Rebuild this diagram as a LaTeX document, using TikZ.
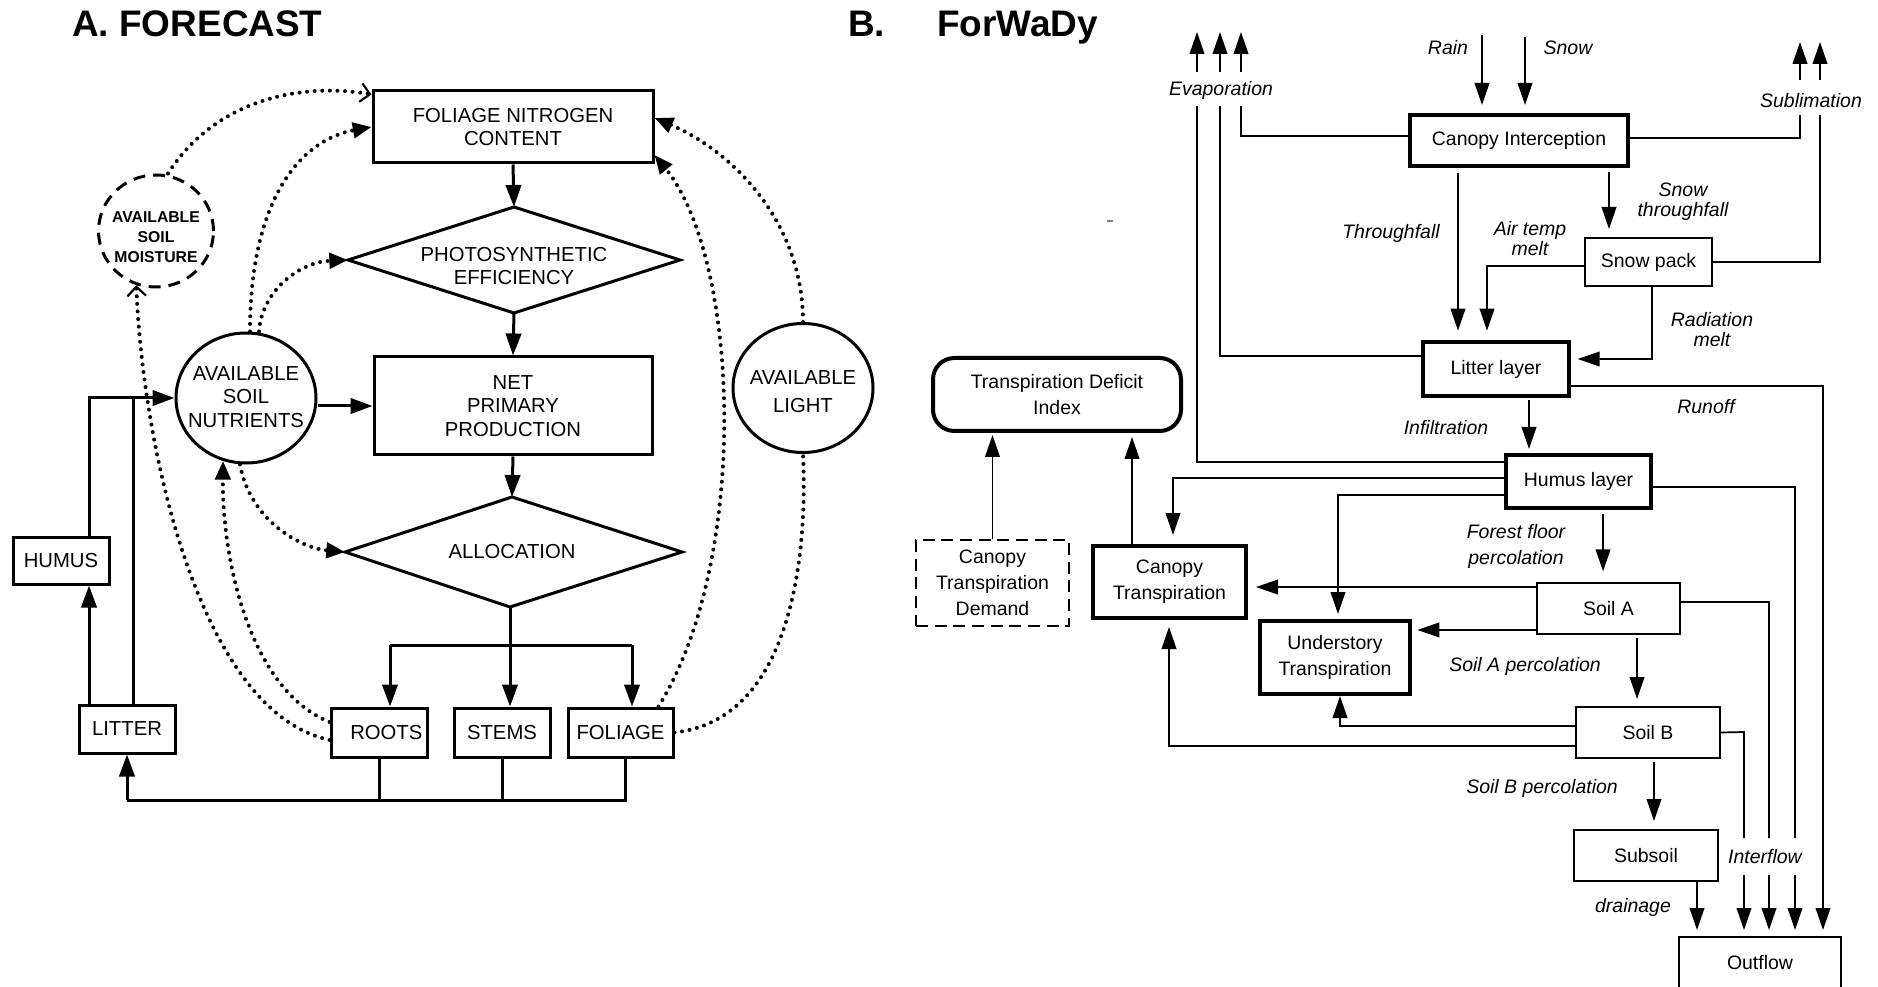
\documentclass[tikz,border=0pt]{standalone}
\usepackage{fontspec}
\setmainfont{Liberation Sans}
\usetikzlibrary{arrows.meta,shapes.geometric}
\newcommand\myfA{\fontsize{15.2pt}{17.5pt}\selectfont}
\newcommand\myfM{\bfseries\fontsize{11.8pt}{15pt}\selectfont}
\newcommand\myfB{\fontsize{14.6pt}{19.5pt}\selectfont}
\newcommand\myfT{\bfseries\fontsize{27.7pt}{30pt}\selectfont}
\begin{document}
\begin{tikzpicture}[x=0.75pt,y=-0.75pt,
  abox/.style={draw,line width=2.25pt,inner sep=0pt,align=center,font=\myfA},
  aell/.style={draw,ellipse,line width=2.25pt,inner sep=0pt},
  atext/.style={inner sep=0pt,align=center,font=\myfA},
  aline/.style={line width=2.25pt},
  aarr/.style={aline,-{Triangle[length=16.5pt,width=11.5pt]}},
  adot/.style={line width=3pt,line cap=round,dash pattern=on 0pt off 5.7pt},
  adarr/.style={adot,-{Triangle[length=14pt,width=11.5pt]}},
  adopen/.style={adot,-{Straight Barb[length=7pt,width=14pt,line width=1.6pt]}},
  bthick/.style={draw,line width=3pt,inner sep=0pt,align=center,font=\myfB},
  bthin/.style={draw,line width=1.5pt,inner sep=0pt,align=center,font=\myfB},
  bline/.style={line width=1.3pt},
  barr/.style={bline,-{Triangle[length=16.5pt,width=11pt]}},
  blab/.style={inner sep=0pt,align=center,font=\myfB\itshape},
  blabt/.style={inner sep=0pt,align=center,font=\fontsize{14.6pt}{15pt}\selectfont\itshape},
  ttl/.style={font=\myfT,anchor=base west,inner sep=0pt},
]
\useasboundingbox (0,0) rectangle (1878,987);

% ---------------- titles
\node[ttl] (tA) at (72,37) {A. FORECAST};
\node[ttl] (tB) at (848,37) {B.};
\node[ttl] (tBn) at (937,37) {ForWaDy};

% ---------------- A. FORECAST
\node[abox,minimum width=210pt,minimum height=54pt] (fnc) at (513,127) {FOLIAGE NITROGEN\\CONTENT};
\coordinate (peN) at (514,207);
\coordinate (peS) at (514,313);
\coordinate (peW) at (348,260);
\coordinate (peE) at (680,260);
\draw[aline] (peN) -- (peE) -- (peS) -- (peW) -- cycle;
\node[atext] (pe) at (514,266) {PHOTOSYNTHETIC\\EFFICIENCY};
\node[abox,minimum width=208.5pt,minimum height=73.5pt] (npp) at (513,406) {NET\\PRIMARY\\PRODUCTION};
\coordinate (alN) at (512,497);
\coordinate (alS) at (510,607);
\coordinate (alW) at (345,552);
\coordinate (alE) at (682,552);
\draw[aline] (alN) -- (alE) -- (alS) -- (alW) -- cycle;
\node[atext] (al) at (512,552) {ALLOCATION};

\node[abox,minimum width=72pt,minimum height=36.75pt] (roots) at (379,732.5) {\hspace*{11pt}ROOTS};
\node[abox,minimum width=72pt,minimum height=36.75pt] (stems) at (502,732.5) {STEMS};
\node[abox,minimum width=78.75pt,minimum height=36.75pt] (foliage) at (620.5,732.5) {FOLIAGE};
\node[abox,minimum width=72pt,minimum height=36pt] (litter) at (127,729) {LITTER};
\node[abox,minimum width=72pt,minimum height=35.25pt] (humus) at (61,560.5) {HUMUS};

\node[aell,minimum width=105pt,minimum height=97.5pt] (nut) at (246,398) {};
\node[atext] (nutT) at (246,397) {AVAILABLE\\SOIL\\NUTRIENTS};
\node[aell,minimum width=105pt,minimum height=96.75pt] (light) at (803,388) {};
\node[atext,font=\fontsize{15.2pt}{21pt}\selectfont] (lightT) at (803,392) {AVAILABLE\\LIGHT};
\node[aell,dash pattern=on 9pt off 6pt,minimum width=86.25pt,minimum height=84pt] (moist) at (156,231) {};
\node[atext,font=\myfM] (moistT) at (156,237) {AVAILABLE\\SOIL\\MOISTURE};

% solid connectors
\draw[aarr] (fnc.south) -- (peN);
\draw[aarr] (peS) -- (npp.north);
\draw[aarr] (npp.south) -- (alN);
\draw[aarr] (npp.west -| nut.east) -- (npp.west);
\coordinate (jc) at (510,645);
\coordinate (jL) at (390,645);
\coordinate (jR) at (632,645);
\draw[aline] (alS) -- (jc);
\draw[aline] (jL) -- (jR);
\draw[aarr] (jL) -- (jL |- roots.north);
\draw[aarr] (jc) -- (jc |- stems.north);
\draw[aarr] (jR) -- (jR |- foliage.north);
\coordinate (bL) at (127,800);
\draw[aline] (roots.south) -- (roots.south |- bL);
\draw[aline] (stems.south) -- (stems.south |- bL);
\draw[aline] ([xshift=4pt]foliage.south) -- ([xshift=4pt]foliage.south |- bL) -- (bL);
\draw[aarr] (bL) -- (litter.south);
\draw[aarr] ([xshift=-28.5pt]litter.north) -- ([xshift=-28.5pt]litter.north |- humus.south);
\coordinate (hj) at (89,398);
\draw[aarr] ([xshift=21pt]humus.north) -- (hj) -- (nut.west);
\draw[aline] ([xshift=4.5pt]litter.north) -- ([xshift=4.5pt]litter.north |- hj);

% dotted connectors
\draw[adopen] ([xshift=9pt]moist.north) .. controls (215,100) and (300,82) .. ([yshift=-3.75pt]fnc.north west);
\draw[adarr] ([xshift=3pt]nut.north) .. controls (250,200) and (300,140) .. (fnc.west);
\draw[adarr] ([xshift=9.75pt]nut.north) .. controls (262,290) and (300,262) .. (peW);
\draw[adarr] ([xshift=-4.5pt]nut.south) .. controls (250,520) and (300,548) .. (alW);
\draw[adarr] ([yshift=7.9pt]roots.west) .. controls (250,690) and (222,560) .. (nut.250);
\draw[adopen] ([yshift=-5.6pt]roots.west) .. controls (200,712) and (143,450) .. (moist.250);
\draw[adarr] ([xshift=-12pt]foliage.north east) .. controls (750,560) and (740,260) .. ([yshift=-21pt]fnc.east);
\draw[adot] (foliage.east) .. controls (790,720) and (808,560) .. (light.south);
\draw[adarr] (light.north) .. controls (803,220) and (730,150) .. ([yshift=6.75pt]fnc.east);

% ---------------- B. ForWaDy
\node[bthick,minimum width=163.5pt,minimum height=38.25pt] (ci) at (1519,140.5) {Canopy Interception};
\node[bthin,minimum width=95.25pt,minimum height=36pt] (sp) at (1648.5,262) {Snow pack};
\node[bthick,minimum width=109.5pt,minimum height=40.5pt] (ll) at (1496,369) {Litter layer};
\node[bthick,minimum width=108.75pt,minimum height=39.75pt] (hl) at (1578.5,481.5) {Humus layer};
\node[bthin,minimum width=107.25pt,minimum height=38.25pt] (sa) at (1608.5,608.5) {Soil A};
\node[bthin,minimum width=108pt,minimum height=38.25pt] (sb) at (1648,732.5) {Soil B};
\node[bthin,minimum width=108pt,minimum height=38.25pt] (ss) at (1646,855.5) {Subsoil};
\node[bthick,rounded corners=16pt,minimum width=186pt,minimum height=54.75pt] (tdi) at (1057,394.5) {Transpiration Deficit\\Index};
\node[bthin,dash pattern=on 9pt off 5pt,minimum width=114.75pt,minimum height=64.5pt] (ctd) at (992.5,583) {Canopy\\Transpiration\\Demand};
\node[bthick,minimum width=114.75pt,minimum height=54pt] (ct) at (1169.5,582) {Canopy\\Transpiration};
\node[bthick,minimum width=112.5pt,minimum height=54.75pt] (ut) at (1335,657.5) {Understory\\Transpiration};
\coordinate (ofNW) at (1679,937);
\coordinate (ofNE) at (1841,937);
\draw[line width=1.5pt] (1679,995) -- (ofNW) -- (ofNE) -- (1841,995);
\node[font=\myfB,inner sep=0pt] (of) at (1760,963) {Outflow};

% labels
\node[blab] (lEvap) at (1221,90) {Evaporation};
\node[blab] (lRain) at (1448,48) {Rain};
\node[blab] (lSnow) at (1568,48) {Snow};
\node[blab] (lSubl) at (1811,101) {Sublimation};
\node[blab] (lTf) at (1391,233) {Throughfall};
\node[blabt] (lAtm) at (1530,239) {Air temp\\melt};
\node[blabt] (lStf) at (1683,202) {Snow\\throughfall};
\node[blabt] (lRm) at (1712,330) {Radiation\\melt};
\node[blab] (lRo) at (1706,407) {Runoff};
\node[blab] (lInf) at (1446,428) {Infiltration};
\node[blab] (lFf) at (1516,546) {Forest floor\\percolation};
\node[blab] (lSap) at (1525,666) {Soil A percolation};
\node[blab] (lSbp) at (1542,788) {Soil B percolation};
\node[blab] (lIf) at (1765,857) {Interflow};
\node[blab] (lDr) at (1633,907) {drainage};

% rain / snow
\coordinate (rainT) at (1482,35);
\coordinate (snowT) at (1525,37);
\draw[barr,shorten >=6pt] (rainT) -- (rainT |- ci.north);
\draw[barr,shorten >=6pt] (snowT) -- (snowT |- ci.north);

% evaporation
\coordinate (evL1) at (1197,106);
\coordinate (evL2) at (1220,106);
\coordinate (evL3) at (1241,106);
\coordinate (evT1) at (1197,72);
\coordinate (evT2) at (1220,72);
\coordinate (evT3) at (1241,72);
\coordinate (evH1) at (1197,32);
\coordinate (evH2) at (1220,32);
\coordinate (evH3) at (1241,32);
\draw[barr] (evT1) -- (evH1);
\draw[barr] (evT2) -- (evH2);
\draw[barr] (evT3) -- (evH3);
\draw[bline] ([yshift=3.4pt]ci.west) -| (evL3);
\draw[bline] ([yshift=9.75pt]ll.west) -| (evL2);
\draw[bline] ([yshift=14.6pt]hl.west) -| (evL1);

% sublimation
\coordinate (suL1) at (1800,115);
\coordinate (suL2) at (1820,115);
\coordinate (suT1) at (1800,80);
\coordinate (suT2) at (1820,80);
\coordinate (suH1) at (1800,42);
\coordinate (suH2) at (1820,42);
\draw[barr] (suT1) -- (suH1);
\draw[barr] (suT2) -- (suH2);
\draw[bline] ([yshift=1.9pt]ci.east) -| (suL1);
\draw[bline] (sp.east) -| (suL2);

% canopy / snow to litter
\draw[barr,shorten <=4pt,shorten >=7pt] ([xshift=-45.75pt]ci.south) -- ([xshift=-45.75pt]ci.south |- ll.north);
\draw[barr,shorten <=3pt,shorten >=6pt] ([xshift=67.5pt]ci.south) -- ([xshift=67.5pt]ci.south |- sp.north);
\coordinate (atm) at (1487,266);
\draw[barr,shorten >=7pt] ([yshift=-3pt]sp.west) -- (atm) -- (atm |- ll.north);
\coordinate (rm) at (1652,359);
\draw[barr,shorten >=5pt] ([xshift=2.6pt]sp.south) -- (rm) -- (rm -| ll.east);

% litter
\coordinate (ro) at (1823,386);
\draw[barr,shorten >=5.25pt] ([yshift=-12.75pt]ll.east) -- (ro) -- (ro |- ofNW);
\draw[barr,shorten <=1.5pt,shorten >=3pt] ([xshift=24.75pt]ll.south) -- ([xshift=24.75pt]ll.south |- hl.north);

% humus
\coordinate (ifT) at (1780,838);
\coordinate (ifB) at (1780,875);
\coordinate (hct) at (1173,478);
\draw[barr,shorten >=6.75pt] ([yshift=2.6pt]hl.west) -- (hct) -- (hct |- ct.north);
\coordinate (hut) at (1338,495);
\draw[barr,shorten >=3.75pt] ([yshift=-10.1pt]hl.west) -- (hut) -- (hut |- ut.north);
\coordinate (hr) at (1795,487);
\draw[bline] ([yshift=-4.1pt]hl.east) -- (hr) -- (hr |- ifT);
\draw[barr,shorten >=5.25pt] (hr |- ifB) -- (hr |- ofNW);
\draw[barr,shorten <=3pt,shorten >=8pt] ([xshift=18.4pt]hl.south) -- ([xshift=18.4pt]hl.south |- sa.north);

% soil A
\draw[barr,shorten >=6pt] ([yshift=16.1pt]sa.west) -- ([yshift=16.1pt]sa.west -| ct.east);
\draw[barr,shorten >=4pt] ([yshift=-16.1pt]sa.west) -- ([yshift=-16.1pt]sa.west -| ut.east);
\coordinate (sar) at (1769,602);
\draw[bline] ([yshift=4.9pt]sa.east) -- (sar) -- (sar |- ifT);
\draw[barr,shorten >=5.25pt] (sar |- ifB) -- (sar |- ofNW);
\draw[barr,shorten <=2pt,shorten >=5.25pt] ([xshift=21.4pt]sa.south) -- ([xshift=21.4pt]sa.south |- sb.north);

% soil B
\coordinate (sbu) at (1340,726);
\draw[barr] ([yshift=4.9pt]sb.west) -- (sbu) -- (sbu |- ut.south);
\coordinate (sbc) at (1169,746);
\draw[barr,shorten >=5.25pt] ([yshift=-10.1pt]sb.west) -- (sbc) -- (sbc |- ct.south);
\coordinate (sbr) at (1744,732);
\draw[bline] (sb.east) -- (sbr) -- (sbr |- ifT);
\draw[barr,shorten >=5.25pt] (sbr |- ifB) -- (sbr |- ofNW);
\draw[barr,shorten <=2pt,shorten >=6pt] ([xshift=4.5pt]sb.south) -- ([xshift=4.5pt]sb.south |- ss.north);

% subsoil
\draw[barr,shorten >=5.25pt] ([xshift=38.25pt]ss.south) -- ([xshift=38.25pt]ss.south |- ofNW);

% to TDI
\draw[barr,shorten >=1.5pt] (ctd.north) -- (ctd.north |- tdi.south);
\draw[barr,shorten >=3pt] ([xshift=-28.1pt]ct.north) -- ([xshift=-28.1pt]ct.north |- tdi.south);

% stray mark
\draw[gray,line width=1pt] (1107,221) -- (1113,221);
\end{tikzpicture}
\end{document}
